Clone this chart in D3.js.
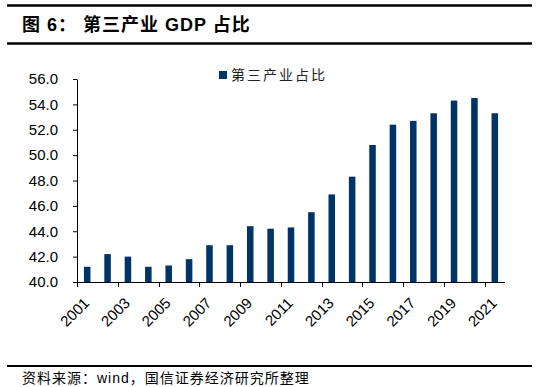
<!DOCTYPE html>
<meta charset="utf-8">
<style>
  body { margin: 0; background: #fff; }
  svg text { font-family: "Liberation Sans", Arial, "Noto Sans CJK SC", sans-serif; }
</style>
<body></body>
<script src="https://cdn.jsdelivr.net/npm/d3@7"></script>
<script>
  const width = 536
  const height = 387

  const barColor = "#003366"

  // 第三产业占比 (%), 2001-2021
  const years = d3.range(2001, 2022).map(String)
  const share = [41.2, 42.2, 42.0, 41.2, 41.3, 41.8, 42.9, 42.9, 44.4, 44.2, 44.3,
    45.5, 46.9, 48.3, 50.8, 52.4, 52.7, 53.3, 54.3, 54.5, 53.3]
  const yTicks = [40, 42, 44, 46, 48, 50, 52, 54, 56]
  const seriesName = "第三产业占比"

  const margin = { top: 79, right: 31, bottom: 105, left: 77 }

  const svg = d3.select("body")
    .append("svg")
    .attr("width", width)
    .attr("height", height)

  // header rules and title
  svg.append("line")
    .attr("x1", 7).attr("x2", 532).attr("y1", 5.5).attr("y2", 5.5)
    .attr("stroke", "#000").attr("stroke-width", 2.5)
  svg.append("line")
    .attr("x1", 7).attr("x2", 532).attr("y1", 43.5).attr("y2", 43.5)
    .attr("stroke", "#000").attr("stroke-width", 2.5)
  svg.append("text")
    .attr("x", 22).attr("y", 31)
    .attr("font-size", 18).attr("font-weight", "bold")
    .attr("letter-spacing", 1)
    .attr("xml:space", "preserve")
    .text("图 6： 第三产业 GDP 占比")

  const x = d3.scaleBand()
    .domain(years)
    .range([margin.left, width - margin.right])
    .paddingInner(0.68)
    .paddingOuter(0.34)

  const y = d3.scaleLinear()
    .domain([40, 56])
    .range([height - margin.bottom, margin.top])

  // bars
  svg.append("g")
    .selectAll("rect")
    .data(years)
    .join("rect")
    .attr("x", (d, i) => x(d))
    .attr("width", x.bandwidth())
    .attr("y", (d, i) => y(share[i]))
    .attr("height", (d, i) => y(40) - y(share[i]))
    .attr("fill", barColor)

  // y axis
  const yAxis = svg.append("g")
    .attr("transform", `translate(${margin.left},0)`)
    .call(d3.axisLeft(y).tickValues(yTicks).tickFormat(d3.format(".1f")).tickSize(4).tickSizeOuter(0))
  yAxis.selectAll("text").attr("font-size", 15).attr("fill", "#000").attr("x", -19)
  yAxis.selectAll("line, path").attr("stroke", "#000")

  // x axis: line with ticks every 2 categories at band boundaries
  const step = x.step()
  const xAxis = svg.append("g")
  xAxis.append("line")
    .attr("x1", margin.left - 0.5).attr("x2", width - margin.right)
    .attr("y1", y(40) + 0.5).attr("y2", y(40) + 0.5)
    .attr("stroke", "#000")
  xAxis.selectAll("line.tick")
    .data(years.filter((d, i) => i % 2 === 0))
    .join("line")
    .attr("class", "tick")
    .attr("x1", d => Math.round(x(d) - step * 0.34) + 0.5)
    .attr("x2", d => Math.round(x(d) - step * 0.34) + 0.5)
    .attr("y1", y(40)).attr("y2", y(40) + 5)
    .attr("stroke", "#000")
  xAxis.selectAll("text")
    .data(years.filter((d, i) => i % 2 === 0))
    .join("text")
    .attr("text-anchor", "end")
    .attr("font-size", 15)
    .attr("transform", d => `translate(${x(d) + x.bandwidth() / 2 + 3},${y(40) + 22}) rotate(-45)`)
    .text(d => d)

  // legend
  svg.append("rect")
    .attr("x", 219).attr("y", 71).attr("width", 8).attr("height", 8)
    .attr("fill", barColor)
  svg.append("text")
    .attr("x", 231).attr("y", 80)
    .attr("font-size", 14).attr("letter-spacing", 2)
    .attr("fill", "#222")
    .text(seriesName)

  // footer
  svg.append("line")
    .attr("x1", 7).attr("x2", 532).attr("y1", 366).attr("y2", 366)
    .attr("stroke", "#000").attr("stroke-width", 2)
  svg.append("text")
    .attr("x", 22).attr("y", 383)
    .attr("font-size", 14).attr("letter-spacing", 1)
    .text("资料来源：wind，国信证券经济研究所整理")
</script>
